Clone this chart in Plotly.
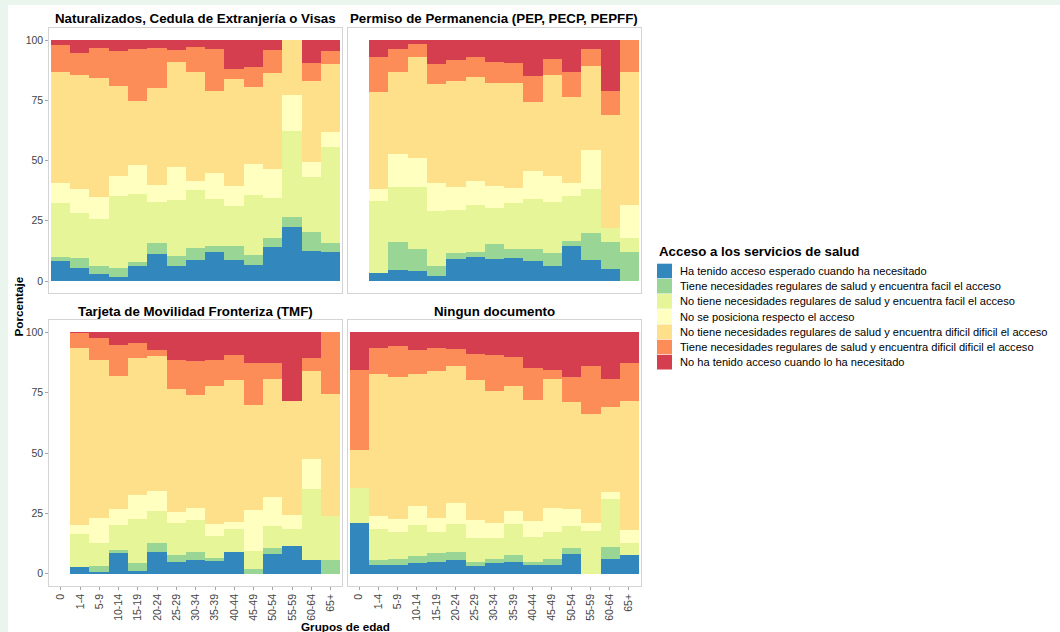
import plotly.graph_objects as go

W, H = 1060, 632

age_groups = ["0", "1-4", "5-9", "10-14", "15-19", "20-24", "25-29", "30-34",
              "35-39", "40-44", "45-49", "50-54", "55-59", "60-64", "65+"]

access_levels = [
    "Ha tenido acceso esperado cuando ha necesitado",
    "Tiene necesidades regulares de salud y encuentra facil el acceso",
    "No tiene necesidades regulares de salud y encuentra facil el acceso",
    "No se posiciona respecto el acceso",
    "No tiene necesidades regulares de salud y encuentra dificil dificil el acceso",
    "Tiene necesidades regulares de salud y encuentra dificil dificil el acceso",
    "No ha tenido acceso cuando lo ha necesitado",
]
access_colors = ["#3288BD", "#99D594", "#E6F598", "#FFFFBF", "#FEE08B", "#FC8D59", "#D53E4F"]

panel_titles = [
    "Naturalizados, Cedula de Extranjería o Visas",
    "Permiso de Permanencia (PEP, PECP, PEPFF)",
    "Tarjeta de Movilidad Fronteriza (TMF)",
    "Ningun documento",
]

# Percentages per age group (one row per age group, columns in access_levels order)
naturalizados = [
    [8.4, 1.6, 22.5, 8.2, 46.2, 11.0, 2.1],
    [5.3, 4.4, 18.4, 10.1, 47.3, 9.0, 5.5],
    [3.0, 3.2, 19.5, 9.2, 49.5, 12.1, 3.5],
    [1.7, 3.8, 29.8, 8.3, 37.2, 14.8, 4.4],
    [6.2, 1.7, 28.1, 12.3, 26.5, 21.3, 3.9],
    [11.1, 4.7, 17.1, 7.1, 39.9, 16.9, 3.2],
    [6.4, 4.1, 23.2, 13.7, 43.3, 5.2, 4.1],
    [8.6, 5.1, 24.1, 3.7, 45.4, 10.2, 2.9],
    [11.9, 2.8, 19.2, 10.8, 34.3, 17.3, 3.7],
    [8.9, 5.5, 16.7, 8.3, 44.4, 4.0, 12.2],
    [6.8, 4.1, 24.8, 13.0, 31.9, 8.3, 11.1],
    [14.2, 3.8, 16.6, 11.9, 39.9, 9.5, 4.1],
    [22.5, 4.1, 35.6, 15.1, 22.7, 0.0, 0.0],
    [12.6, 7.6, 23.1, 6.1, 33.6, 7.6, 9.4],
    [11.9, 3.7, 40.1, 6.3, 28.0, 5.6, 4.4],
]

permiso_permanencia = [
    None,
    [3.2, 0.0, 30.0, 5.0, 40.1, 14.5, 7.2],
    [4.6, 11.6, 22.9, 13.6, 34.2, 9.4, 3.7],
    [4.3, 9.1, 25.7, 11.9, 42.1, 5.2, 1.7],
    [2.1, 4.0, 23.1, 11.6, 40.8, 8.4, 10.0],
    [9.0, 2.5, 18.0, 9.6, 44.0, 8.6, 8.3],
    [9.8, 2.4, 19.5, 9.8, 43.0, 8.3, 7.2],
    [9.1, 6.1, 15.1, 9.3, 42.7, 8.7, 9.0],
    [9.7, 3.6, 19.1, 6.1, 43.8, 8.0, 9.7],
    [8.4, 5.0, 20.8, 11.6, 28.3, 11.0, 14.9],
    [6.4, 5.1, 21.1, 11.1, 41.8, 6.5, 8.0],
    [14.7, 1.9, 18.7, 5.4, 35.8, 10.1, 13.4],
    [8.7, 11.1, 18.4, 16.2, 34.8, 7.2, 3.6],
    [4.8, 11.4, 5.7, 0.0, 47.0, 10.1, 21.0],
    [0.0, 11.9, 6.1, 13.5, 55.1, 13.4, 0.0],
]

tarjeta_movilidad = [
    None,
    [2.6, 0.0, 13.7, 3.6, 73.5, 6.5, 0.1],
    [0.8, 2.4, 9.4, 10.6, 65.1, 9.2, 2.5],
    [8.4, 1.4, 10.4, 6.6, 55.1, 12.9, 5.2],
    [1.2, 3.1, 18.4, 9.9, 56.6, 6.2, 4.6],
    [9.1, 3.5, 13.5, 7.9, 56.2, 2.5, 7.3],
    [4.6, 2.9, 13.4, 4.4, 51.2, 12.0, 11.5],
    [5.7, 3.3, 13.0, 5.3, 46.7, 14.1, 11.9],
    [5.2, 1.3, 9.1, 5.0, 56.9, 11.0, 11.5],
    [8.8, 0.0, 9.6, 2.9, 58.9, 10.4, 9.4],
    [0.0, 1.9, 7.5, 17.0, 43.5, 17.5, 12.6],
    [8.0, 2.5, 9.3, 12.1, 48.6, 6.9, 12.6],
    [11.6, 0.0, 6.8, 5.9, 47.0, 0.0, 28.7],
    [5.4, 0.0, 29.7, 12.3, 36.3, 5.5, 10.8],
    [0.0, 5.4, 18.5, 0.0, 50.4, 25.7, 0.0],
]

ningun_documento = [
    [21.1, 0.0, 14.5, 0.0, 15.6, 33.2, 15.6],
    [3.5, 2.2, 12.7, 5.5, 58.7, 11.0, 6.4],
    [3.5, 2.6, 10.9, 5.7, 58.7, 12.7, 5.9],
    [4.3, 3.0, 12.9, 7.6, 54.9, 10.0, 7.3],
    [4.7, 3.9, 8.5, 6.0, 60.6, 9.7, 6.6],
    [5.7, 3.3, 11.4, 9.0, 56.6, 7.0, 7.0],
    [3.2, 1.4, 10.3, 7.1, 58.2, 10.8, 9.0],
    [4.3, 1.9, 8.7, 6.2, 54.3, 14.9, 9.7],
    [4.7, 3.0, 12.7, 5.3, 51.8, 12.0, 10.5],
    [3.6, 1.0, 10.5, 6.7, 49.9, 13.4, 14.9],
    [3.6, 2.3, 11.2, 10.0, 53.4, 3.9, 15.6],
    [8.1, 2.4, 9.3, 7.0, 44.1, 10.7, 18.4],
    [0.0, 0.0, 17.7, 3.2, 45.3, 19.8, 14.0],
    [6.1, 4.7, 20.1, 2.9, 35.1, 11.8, 19.3],
    [7.5, 0.0, 5.1, 5.5, 53.4, 15.7, 12.8],
]

y_ticks = [0, 25, 50, 75, 100]
legend_title = "Acceso a los servicios de salud"
x_title = "Grupos de edad"
y_title = "Porcentaje"

panels = [naturalizados, permiso_permanencia, tarjeta_movilidad, ningun_documento]

FONT = "Liberation Sans, Arial, sans-serif"
BORDER = "#D4D4D4"
TICKC = "#A6A6A6"
TXT = "#444444"


def fx(x):
    return x / W


def fy(y):
    return 1 - y / H


col_px = [(49.3, 342.3), (347.5, 640.5)]
row_px = [(27.95, 293.05), (320.2, 585.8)]

fig = go.Figure()

for p, rows in enumerate(panels):
    suffix = "" if p == 0 else str(p + 1)
    for k in range(len(access_levels)):
        xs, ys = [], []
        for g, row in zip(age_groups, rows):
            if row is None:
                continue
            xs.append(g)
            ys.append(row[k])
        fig.add_trace(go.Bar(
            x=xs, y=ys, name=access_levels[k],
            marker=dict(color=access_colors[k], line=dict(width=0)),
            xaxis="x" + suffix, yaxis="y" + suffix, showlegend=False,
        ))

layout = dict(
    width=W, height=H,
    margin=dict(l=0, r=0, t=0, b=0),
    paper_bgcolor="white", plot_bgcolor="white",
    barmode="stack", bargap=0,
    font=dict(family=FONT, color="black"),
    showlegend=False,
)

for p in range(4):
    suffix = "" if p == 0 else str(p + 1)
    r, c = divmod(p, 2)
    x0, x1 = col_px[c]
    y0, y1 = row_px[r]
    layout["xaxis" + suffix] = dict(
        domain=[fx(x0), fx(x1)], anchor="y" + suffix,
        type="category", categoryorder="array", categoryarray=age_groups,
        range=[-0.6, len(age_groups) - 0.4],
        showline=True, mirror=True, linecolor=BORDER, linewidth=1,
        showgrid=False, zeroline=False, automargin=False,
        showticklabels=(r == 1), ticks="outside" if r == 1 else "",
        ticklen=3, tickwidth=1, tickcolor=TICKC, tickangle=-90,
        tickfont=dict(size=10.5, color=TXT, family=FONT),
    )
    layout["yaxis" + suffix] = dict(
        domain=[fy(y1), fy(y0)], anchor="x" + suffix,
        range=[-5, 105], tickvals=y_ticks,
        showline=True, mirror=True, linecolor=BORDER, linewidth=1,
        showgrid=False, zeroline=False, automargin=False,
        showticklabels=(c == 0), ticks="outside" if c == 0 else "",
        ticklen=3, tickwidth=1, tickcolor=TICKC,
        tickfont=dict(size=10.5, color=TXT, family=FONT),
    )

annotations = []
shapes = []

# facet titles
for p, title in enumerate(panel_titles):
    r, c = divmod(p, 2)
    x0, x1 = col_px[c]
    ty = [18, 311.5][r]
    annotations.append(dict(
        text=title, x=fx((x0 + x1) / 2), y=fy(ty), xref="paper", yref="paper",
        xanchor="center", yanchor="middle", showarrow=False,
        font=dict(size=13.3, family=FONT, color="black", weight="bold"),
    ))

# axis titles
annotations.append(dict(
    text=x_title, x=fx(345.5), y=fy(626), xref="paper", yref="paper",
    xanchor="center", yanchor="middle", showarrow=False,
    font=dict(size=11.7, family=FONT, color="black", weight="bold"),
))
annotations.append(dict(
    text=y_title, x=fx(18.5), y=fy(307), xref="paper", yref="paper",
    xanchor="center", yanchor="middle", showarrow=False, textangle=-90,
    font=dict(size=11.7, family=FONT, color="black", weight="bold"),
))

# legend (drawn manually to match key spacing)
annotations.append(dict(
    text=legend_title, x=fx(656.5), y=fy(251), xref="paper", yref="paper",
    xanchor="left", yanchor="middle", showarrow=False,
    font=dict(size=13.3, family=FONT, color="black", weight="bold"),
))
for k, (lab, col) in enumerate(zip(access_levels, access_colors)):
    cy = 271 + k * 15.2
    shapes.append(dict(
        type="rect", xref="paper", yref="paper",
        x0=fx(657), x1=fx(672), y0=fy(cy + 7.3), y1=fy(cy - 7.3),
        fillcolor=col, line=dict(width=0),
    ))
    annotations.append(dict(
        text=lab, x=fx(678), y=fy(cy), xref="paper", yref="paper",
        xanchor="left", yanchor="middle", showarrow=False,
        font=dict(size=11.1, family=FONT, color="black"),
    ))

# light page strips at top and left
shapes.append(dict(type="rect", xref="paper", yref="paper", x0=0, x1=1,
                   y0=fy(5), y1=1, fillcolor="#EAF5EE", line=dict(width=0), layer="below"))
shapes.append(dict(type="rect", xref="paper", yref="paper", x0=0, x1=fx(8),
                   y0=0, y1=1, fillcolor="#EAF5EE", line=dict(width=0), layer="below"))

layout["annotations"] = annotations
layout["shapes"] = shapes
fig.update_layout(**layout)

fig.write_html(
    "out.html",
    config={"displayModeBar": False},
    post_script="document.body.style.margin='0';document.body.style.padding='0';",
)
